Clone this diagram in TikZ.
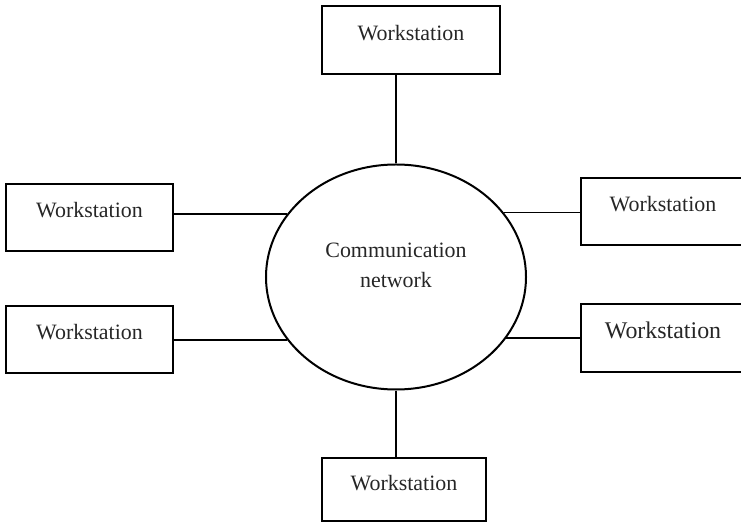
\documentclass[tikz,border=0pt]{standalone}
\usepackage{fontspec}
\setmainfont{Liberation Serif}
\usetikzlibrary{shapes.geometric}
\tikzstyle{station} = [rectangle, draw=black, line width=1bp, minimum width=83bp, minimum height=33.5bp, inner sep=0pt, text=black!85, font=\fontsize{11}{13}\selectfont, text height=8bp, text depth=7.5bp]
\tikzstyle{network} = [ellipse, draw=black, line width=1bp, minimum width=130bp, minimum height=112.5bp, inner sep=0pt, text=black!85, align=center, font=\fontsize{11}{15}\selectfont]
\tikzstyle{link} = [line width=0.8bp]

\begin{document}
\begin{tikzpicture}[x=0.5bp, y=-0.5bp]
\useasboundingbox (0,0) rectangle (741,526);

\node (net) [network, text depth=11.5bp] at (396,277) {Communication\\network};

\node (wsTop) [station, minimum width=89bp, minimum height=34bp] at (411,40) {Workstation};
\node (wsBottom) [station, minimum width=82bp, minimum height=31.5bp] at (404,489.5) {Workstation};
\node (wsLeftUp) [station] at (89.5,217.5) {Workstation};
\node (wsLeftDown) [station] at (89.5,339.5) {Workstation};
\node (wsRightUp) [station, minimum width=82bp] at (663,211.5) {Workstation};
\node (wsRightDown) [station, minimum width=82bp, minimum height=34bp, font=\fontsize{12}{14}\selectfont] at (663,338) {Workstation};

\draw [link] (net.north) -- (net.north |- wsTop.south);
\draw [link] (net.south) -- (net.south |- wsBottom.north);
\draw [link] (net.150 -| wsLeftUp.east) -- (net.150);
\draw [link] (net.210 -| wsLeftDown.east) -- (net.210);
\draw [link] (net.31) -- (net.31 -| wsRightUp.west);
\draw [link] (net.-29) -- (net.-29 -| wsRightDown.west);

\end{tikzpicture}
\end{document}
